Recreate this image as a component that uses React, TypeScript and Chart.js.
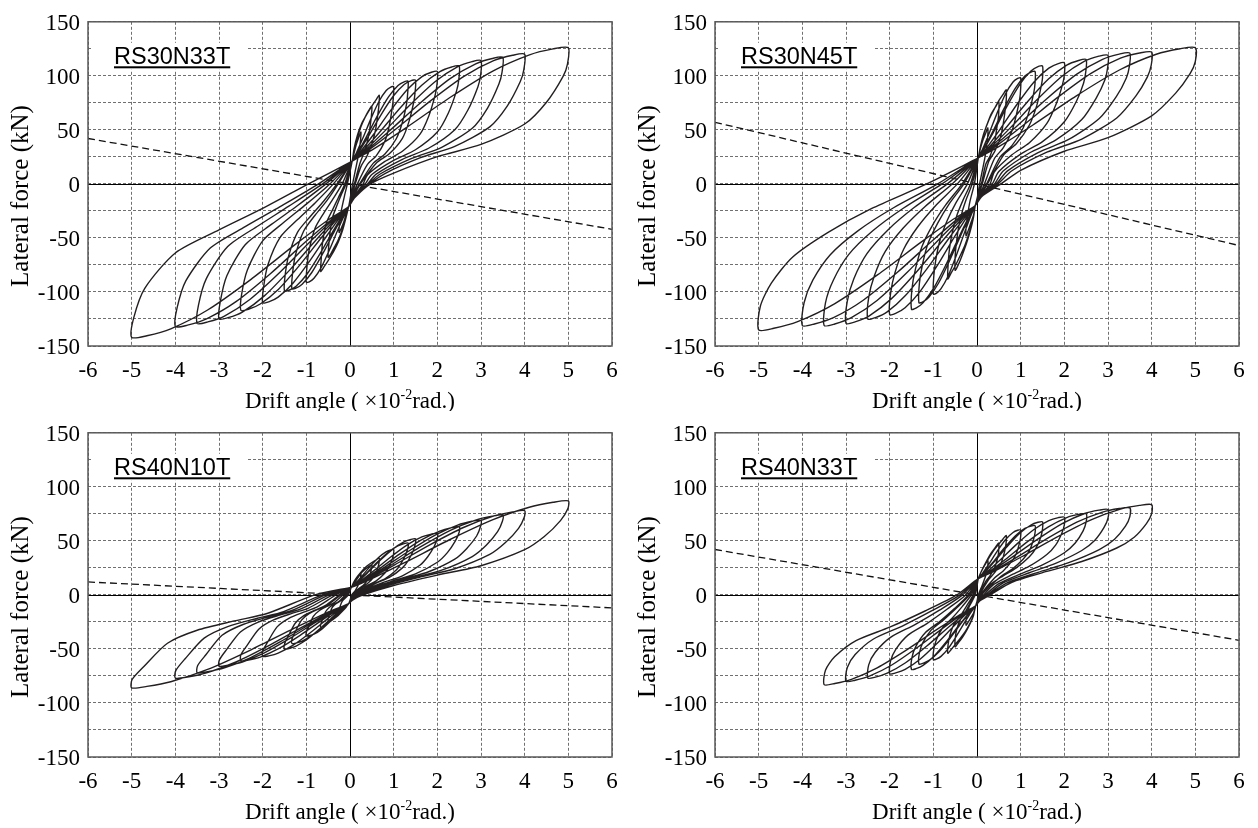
import React, { useEffect, useRef } from 'react';
import { Chart, registerables } from 'chart.js';

Chart.register(...registerables);

// ---------- axes ----------
const X_TICKS = [-6, -5, -4, -3, -2, -1, 0, 1, 2, 3, 4, 5, 6];
const Y_GRID = [-150, -125, -100, -75, -50, -25, 0, 25, 50, 75, 100, 125, 150];
const Y_LABELS = [-150, -100, -50, 0, 50, 100, 150];
const X_TITLE_MAIN = 'Drift angle (';
const X_TITLE_TIMES = ' \u00D7';
const X_TITLE_TEN = '10';
const X_TITLE_EXP = '-2';
const X_TITLE_UNIT = 'rad.)';
const Y_TITLE = 'Lateral force (kN)';

// ---------- RS30N33T : drift (x10^-2 rad), force (kN) pairs, one array per cycle ----------
const RS30N33T_cycles: number[][] = [
  [0.05,21, 0.09,28, 0.14,36, 0.2,43, 0.25,48, 0.24,40, 0.2,28, 0.12,12, 0.06,0, 0.01,-12, -0.03,-21, -0.09,-28, -0.14,-35, -0.2,-41, -0.25,-45, -0.24,-37, -0.2,-25, -0.12,-10, -0.06,0],
  [0.05,21, 0.09,31, 0.16,42, 0.25,53, 0.35,62, 0.43,68, 0.5,72, 0.49,63, 0.47,56, 0.42,43, 0.33,30, 0.22,18, 0.1,0, 0.02,-13, -0.03,-21, -0.09,-30, -0.16,-40, -0.25,-50, -0.35,-58, -0.43,-64, -0.5,-68, -0.49,-59, -0.46,-46, -0.4,-31, -0.3,-20, -0.2,-10, -0.09,0],
  [0.05,21, 0.09,32, 0.17,45, 0.27,56, 0.38,64, 0.5,72, 0.6,78, 0.67,82, 0.66,72, 0.64,65, 0.58,49, 0.5,37, 0.38,25, 0.25,16, 0.12,0, 0.03,-13, -0.03,-21, -0.09,-31, -0.17,-43, -0.27,-54, -0.38,-63, -0.5,-71, -0.6,-77, -0.67,-81, -0.66,-70, -0.63,-55, -0.54,-36, -0.4,-24, -0.27,-13, -0.12,0],
  [0.05,21, 0.145,28.6, 0.288,41.7, 0.478,60.2, 0.668,76.7, 0.829,86.4, 0.934,89.6, 1,90, 0.99,79, 0.97,71, 0.9,54, 0.8,39.6, 0.6,26, 0.4,18, 0.17,0, 0.04,-13, -0.03,-21, -0.127,-28.7, -0.273,-41.9, -0.467,-60.7, -0.661,-77.4, -0.825,-87.3, -0.932,-90.6, -1,-91, -0.99,-79, -0.94,-62, -0.8,-41, -0.6,-27, -0.4,-14.6, -0.18,0],
  [0.05,21, 0.178,29.1, 0.37,43.1, 0.626,62.9, 0.882,80.5, 1.1,91, 1.24,94.5, 1.33,95, 1.32,83.6, 1.3,75, 1.2,57, 1.06,41.8, 0.8,27.6, 0.53,19, 0.22,0, 0.05,-13, -0.03,-21, -0.16,-29.3, -0.355,-43.7, -0.615,-63.9, -0.875,-82, -1.096,-92.8, -1.239,-96.4, -1.33,-97, -1.32,-84.4, -1.25,-66, -1.06,-43.6, -0.8,-29, -0.53,-15.5, -0.27,0],
  [0.05,21, 0.195,29.2, 0.413,43.4, 0.703,63.5, 0.993,81.3, 1.24,91.9, 1.4,95.5, 1.5,96, 1.49,84.5, 1.46,75.8, 1.35,57.6, 1.2,42.2, 0.9,27.8, 0.6,19.2, 0.24,0, 0.06,-13, -0.03,-21, -0.177,-29.5, -0.398,-44.3, -0.692,-65, -0.986,-83.6, -1.235,-94.7, -1.397,-98.4, -1.5,-99, -1.49,-86.1, -1.41,-67.3, -1.2,-44.6, -0.9,-29.7, -0.6,-15.8, -0.3,0],
  [0.05,21, 0.245,30.1, 0.538,45.7, 0.928,67.8, 1.318,87.5, 1.649,99.3, 1.864,103.3, 2,104, 1.99,91.5, 1.95,82.2, 1.8,62.4, 1.6,45.8, 1.2,30.2, 0.8,20.8, 0.4,8.3, 0.3,0, 0.07,-13, -0.03,-21, -0.227,-30.7, -0.523,-47.5, -0.917,-71, -1.311,-92.1, -1.645,-104.8, -1.862,-109.2, -2,-110, -1.98,-95.7, -1.88,-74.8, -1.6,-49.5, -1.2,-33, -0.8,-17.6, -0.38,0],
  [0.05,21, 0.295,30.6, 0.663,47.1, 1.153,70.5, 1.643,91.3, 2.059,103.9, 2.329,108.2, 2.5,109, 2.49,96, 2.44,86.1, 2.25,65.4, 2,48, 1.5,31.6, 1,21.8, 0.5,8.7, 0.35,0, 0.08,-13, -0.03,-21, -0.277,-31.5, -0.648,-49.4, -1.142,-74.7, -1.636,-97.4, -2.055,-111.1, -2.327,-116, -2.5,-117, -2.48,-101.8, -2.35,-79.6, -2,-52.7, -1.5,-35.1, -1,-18.7, -0.46,0],
  [0.05,21, 0.345,31.1, 0.788,48.6, 1.378,73.2, 1.968,95.2, 2.469,108.5, 2.794,113.1, 3,114, 2.99,100.3, 2.93,90, 2.7,68.4, 2.4,50.2, 1.8,33, 1.2,22.8, 0.6,9.1, 0.4,0, 0.09,-13, -0.03,-21, -0.327,-32.3, -0.773,-51.7, -1.367,-79.1, -1.961,-103.6, -2.465,-118.6, -2.792,-123.8, -3,-125, -2.97,-108.8, -2.82,-85, -2.4,-56.3, -1.8,-37.5, -1.2,-20, -0.55,0],
  [0.05,21, 0.395,31.5, 0.913,49.4, 1.603,74.7, 2.293,97.4, 2.879,111.1, 3.259,116, 3.5,117, 3.48,103, 3.41,92.4, 3.15,70.2, 2.8,51.5, 2.1,33.9, 1.4,23.4, 0.7,9.4, 0.42,0, 0.09,-13, -0.03,-21, -0.377,-32.7, -0.898,-52.9, -1.592,-81.3, -2.286,-106.7, -2.875,-122.3, -3.257,-127.7, -3.5,-129, -3.47,-112.2, -3.29,-87.7, -2.8,-58, -2.1,-38.7, -1.4,-20.6, -0.63,0],
  [0.05,21, 0.445,31.8, 1.038,50.4, 1.828,76.4, 2.618,99.8, 3.289,114, 3.724,119, 4,120, 3.98,105.6, 3.9,94.8, 3.6,72, 3.2,52.8, 2.4,34.8, 1.6,24, 0.8,9.6, 0.45,0, 0.1,-13, -0.03,-21, -0.427,-33.1, -1.023,-53.8, -1.817,-82.9, -2.611,-109, -3.285,-124.9, -3.722,-130.7, -4,-132, -3.96,-114.8, -3.76,-89.8, -3.2,-59.4, -2.4,-39.6, -1.6,-21.1, -0.72,0],
  [0.05,21, 0.545,32.4, 1.29,52.1, 2.28,79.7, 3.27,104.4, 4.11,119.4, 4.65,124.9, 5,126, 4.98,110.9, 4.88,99.5, 4.5,75.6, 4,55.4, 3,36.5, 2,25.2, 1,10, 0.47,0, 0.1,-13, -0.03,-21, -0.527,-34.1, -1.273,-56.7, -2.267,-88.3, -3.261,-116.7, -4.105,-134.1, -4.652,-140.5, -5,-142, -4.95,-123.5, -4.7,-96.6, -4,-63.9, -3,-42.6, -2,-22.7, -0.95,0, 0.05,21],
];
const RS30N33T_pdelta = [-6, 42, 6, -42];

// ---------- RS30N45T ----------
const RS30N45T_cycles: number[][] = [
  [0.03,24, 0.08,33, 0.14,41, 0.2,47, 0.25,52, 0.25,46.8, 0.23,38, 0.18,24, 0.12,12, 0.06,0, 0.01,-12, -0.04,-20, -0.08,-29, -0.14,-36, -0.2,-43, -0.25,-48, -0.25,-40, -0.22,-30, -0.16,-16, -0.06,0],
  [0.03,24, 0.08,35, 0.15,46, 0.24,56, 0.33,65, 0.42,71, 0.5,76, 0.5,68, 0.49,61.5, 0.45,50.7, 0.4,38, 0.3,25.8, 0.2,18.2, 0.1,0, 0.02,-12, -0.04,-20, -0.08,-31, -0.15,-43, -0.24,-55, -0.33,-65, -0.42,-74, -0.5,-80, -0.5,-67, -0.47,-54, -0.42,-40, -0.34,-26, -0.24,-13.6, -0.11,0],
  [0.03,24, 0.09,36, 0.17,48, 0.27,59, 0.38,68, 0.5,77, 0.6,83, 0.67,87, 0.67,78, 0.65,70, 0.61,58, 0.54,43.5, 0.4,29.6, 0.27,20.9, 0.12,0, 0.03,-12, -0.04,-20, -0.09,-32, -0.17,-44, -0.27,-56, -0.38,-66, -0.5,-76, -0.6,-83, -0.67,-88, -0.66,-74, -0.63,-60, -0.56,-44, -0.46,-29, -0.32,-15, -0.15,0],
  [0.03,24, 0.127,32.1, 0.273,46.2, 0.467,66.2, 0.661,83.9, 0.825,94.3, 0.932,97.6, 1,98, 1,88.2, 0.98,79.4, 0.91,65.4, 0.8,49, 0.6,33.3, 0.4,23.5, 0.17,0, 0.04,-12, -0.04,-20, -0.136,-28.9, -0.28,-44.4, -0.472,-66.1, -0.664,-85.5, -0.827,-97.2, -0.933,-101.3, -1,-102, -0.99,-85.7, -0.94,-69.4, -0.84,-51, -0.68,-33.7, -0.48,-17.3, -0.22,0],
  [0.03,24, 0.16,32.8, 0.355,47.9, 0.615,69.4, 0.875,88.5, 1.096,99.8, 1.239,103.5, 1.33,104, 1.33,93.6, 1.3,84.2, 1.21,69.4, 1.06,52, 0.8,35.4, 0.53,25, 0.22,0, 0.05,-12, -0.04,-20, -0.169,-29.8, -0.363,-46.7, -0.621,-70.4, -0.879,-91.7, -1.098,-104.6, -1.24,-109.1, -1.33,-110, -1.32,-92.4, -1.25,-74.8, -1.12,-55, -0.9,-36.3, -0.64,-18.7, -0.3,0],
  [0.03,24, 0.177,33.3, 0.398,49.4, 0.692,72.2, 0.986,92.4, 1.235,104.4, 1.397,108.5, 1.5,109, 1.5,98.1, 1.46,88.3, 1.37,72.7, 1.2,54.5, 0.9,37.1, 0.6,26.2, 0.24,0, 0.06,-12, -0.04,-20, -0.186,-30.4, -0.405,-48.4, -0.697,-73.7, -0.989,-96.3, -1.237,-110.1, -1.398,-115, -1.5,-116, -1.49,-97.4, -1.41,-78.9, -1.26,-58, -1.02,-38.3, -0.72,-19.7, -0.34,0],
  [0.03,24, 0.227,33.6, 0.523,50.2, 0.917,73.7, 1.311,94.6, 1.645,107.1, 1.862,111.3, 2,112, 2,100.8, 1.95,90.7, 1.82,74.7, 1.6,56, 1.2,38.1, 0.8,26.9, 0.4,11.2, 0.3,0, 0.07,-12, -0.04,-20, -0.236,-31, -0.53,-49.9, -0.922,-76.4, -1.314,-100.2, -1.647,-114.6, -1.863,-119.8, -2,-121, -1.98,-101.6, -1.88,-82.3, -1.68,-60.5, -1.36,-39.9, -0.96,-20.6, -0.45,0],
  [0.03,24, 0.277,33.9, 0.648,51.2, 1.142,75.4, 1.636,97, 2.055,109.9, 2.327,114.2, 2.5,115, 2.49,103.5, 2.44,93.2, 2.28,76.7, 2,57.5, 1.5,39.1, 1,27.6, 0.5,11.5, 0.35,0, 0.08,-12, -0.04,-20, -0.286,-31.4, -0.655,-51, -1.147,-78.6, -1.639,-103.3, -2.057,-118.4, -2.328,-123.8, -2.5,-125, -2.48,-105, -2.35,-85, -2.1,-62.5, -1.7,-41.3, -1.2,-21.3, -0.57,0],
  [0.03,24, 0.327,34.4, 0.773,52.3, 1.367,77.6, 1.961,100.1, 2.465,113.6, 2.792,118.2, 3,119, 2.99,107.1, 2.93,96.4, 2.73,79.4, 2.4,59.5, 1.8,40.5, 1.2,28.6, 0.6,11.9, 0.4,0, 0.08,-12, -0.04,-20, -0.336,-31.8, -0.78,-52.2, -1.372,-80.8, -1.964,-106.4, -2.467,-122.1, -2.793,-127.7, -3,-129, -2.97,-108.4, -2.82,-87.7, -2.52,-64.5, -2.04,-42.6, -1.44,-21.9, -0.68,0],
  [0.03,24, 0.377,34.6, 0.898,52.9, 1.592,78.6, 2.286,101.6, 2.875,115.3, 3.257,120.1, 3.5,121, 3.49,108.9, 3.42,98, 3.19,80.7, 2.8,60.5, 2.1,41.1, 1.4,29, 0.7,12.1, 0.44,0, 0.09,-12, -0.04,-20, -0.386,-32.1, -0.905,-52.8, -1.597,-81.8, -2.289,-107.9, -2.877,-123.8, -3.258,-129.6, -3.5,-131, -3.47,-110, -3.29,-89.1, -2.94,-65.5, -2.38,-43.2, -1.68,-22.3, -0.8,0],
  [0.03,24, 0.427,34.7, 1.023,53.1, 1.817,79.1, 2.611,102.3, 3.285,116.3, 3.722,121.1, 4,122, 3.99,109.8, 3.9,98.8, 3.64,81.4, 3.2,61, 2.4,41.5, 1.6,29.3, 0.8,12.2, 0.48,0, 0.09,-12, -0.04,-20, -0.436,-32.1, -1.03,-52.8, -1.822,-81.8, -2.614,-107.9, -3.287,-123.8, -3.723,-129.6, -4,-131, -3.96,-110, -3.76,-89.1, -3.36,-65.5, -2.72,-43.2, -1.92,-22.3, -0.9,0],
  [0.03,24, 0.527,35.1, 1.273,54.3, 2.267,81.3, 3.261,105.4, 4.105,120, 4.652,125.1, 5,126, 5,113.4, 4.88,102, 4.55,84, 4,63, 3,42.8, 2,30.2, 1,12.6, 0.55,0, 0.1,-12, -0.04,-20, -0.536,-32.5, -1.28,-53.9, -2.272,-84, -3.264,-111, -4.107,-127.5, -4.653,-133.6, -5,-135, -4.96,-113, -4.71,-91.8, -4.22,-67.6, -3.4,-44.6, -2.42,-22.9, -1.15,0, 0.03,24],
];
const RS30N45T_pdelta = [-6, 57, 6, -57];

// ---------- RS40N10T ----------
const RS40N10T_cycles: number[][] = [
  [0.03,7, 0.08,10, 0.14,13.5, 0.2,17, 0.25,20, 0.25,18.4, 0.24,15.8, 0.2,10, 0.12,4, 0.04,0, 0,-5, -0.03,-8, -0.08,-10, -0.14,-12, -0.2,-13.5, -0.25,-15, -0.25,-13.6, -0.23,-11, -0.18,-6, -0.04,0],
  [0.03,7, 0.08,11, 0.15,15, 0.24,19.5, 0.33,23, 0.42,26, 0.5,28, 0.5,25.8, 0.48,22, 0.45,17.4, 0.4,13.4, 0.3,8.7, 0.2,5.9, 0.06,0, 0.01,-5, -0.03,-8, -0.08,-10.5, -0.15,-13.5, -0.24,-17, -0.33,-20, -0.42,-22.5, -0.5,-24, -0.5,-21.8, -0.47,-18.5, -0.42,-12.5, -0.35,-9.1, -0.19,-4.8, -0.08,0],
  [0.03,7, 0.09,12, 0.17,17, 0.27,22, 0.38,26.5, 0.5,30, 0.6,32.5, 0.67,34, 0.67,31.3, 0.65,27, 0.6,21, 0.54,16.3, 0.4,10.5, 0.27,7, 0.08,0, 0.02,-5, -0.03,-8, -0.09,-11.5, -0.17,-15, -0.27,-19, -0.38,-22.5, -0.5,-26, -0.6,-28.5, -0.67,-30, -0.67,-27.3, -0.63,-23, -0.56,-15.6, -0.47,-11.4, -0.36,-8.4, -0.25,-6, -0.11,0],
  [0.03,7, 0.127,10.8, 0.273,17.4, 0.467,26.6, 0.661,34.8, 0.825,39.8, 0.932,41.6, 1,42, 1,38.6, 0.97,33.2, 0.89,26, 0.8,20.2, 0.6,13, 0.4,8.8, 0.1,0, 0.02,-5, -0.03,-8, -0.127,-11.3, -0.273,-17, -0.467,-25, -0.661,-32.1, -0.825,-36.4, -0.932,-37.8, -1,-38, -1,-34.6, -0.94,-29.3, -0.84,-19.8, -0.7,-14.4, -0.53,-10.6, -0.38,-7.6, -0.16,0],
  [0.03,7, 0.16,11.5, 0.355,19.1, 0.615,29.9, 0.875,39.5, 1.096,45.3, 1.239,47.5, 1.33,48, 1.33,44.2, 1.28,37.9, 1.18,29.8, 1.06,23, 0.8,14.9, 0.53,10.1, 0.13,0, 0.03,-5, -0.03,-8, -0.16,-11.9, -0.355,-19, -0.615,-28.8, -0.875,-37.5, -1.096,-42.7, -1.239,-44.6, -1.33,-45, -1.33,-41, -1.26,-34.7, -1.11,-23.4, -0.93,-17.1, -0.7,-12.6, -0.5,-9, -0.21,0],
  [0.03,7, 0.177,11.9, 0.398,20.3, 0.692,32, 0.986,42.5, 1.235,49, 1.397,51.4, 1.5,52, 1.5,47.8, 1.45,41.1, 1.34,32.2, 1.2,25, 0.9,16.1, 0.6,10.9, 0.14,0, 0.03,-5, -0.03,-8, -0.177,-12.6, -0.398,-20.4, -0.692,-31.4, -0.986,-41.3, -1.235,-47.3, -1.397,-49.6, -1.5,-50, -1.5,-45.5, -1.42,-38.5, -1.25,-26, -1.05,-19, -0.8,-14, -0.57,-10, -0.24,0],
  [0.03,7, 0.227,12.4, 0.523,21.6, 0.917,34.6, 1.311,46.3, 1.645,53.6, 1.862,56.3, 2,57, 2,52.4, 1.93,45, 1.78,35.3, 1.6,27.4, 1.2,17.7, 0.8,12, 0.4,5.7, 0.17,0, 0.03,-5, -0.03,-8, -0.227,-13.3, -0.523,-22.4, -0.917,-35.2, -1.311,-46.7, -1.645,-53.8, -1.862,-56.4, -2,-57, -2,-51.9, -1.89,-43.9, -1.67,-29.6, -1.4,-21.7, -1.06,-16, -0.76,-11.4, -0.32,0],
  [0.03,7, 0.277,13.1, 0.648,23.4, 1.142,37.9, 1.636,51, 2.055,59.1, 2.327,62.2, 2.5,63, 2.5,58, 2.41,49.8, 2.23,39.1, 2,30.2, 1.5,19.5, 1,13.2, 0.5,6.3, 0.2,0, 0.04,-5, -0.03,-8, -0.277,-13.7, -0.648,-23.6, -1.142,-37.4, -1.636,-49.8, -2.055,-57.5, -2.327,-60.3, -2.5,-61, -2.5,-55.5, -2.36,-47, -2.09,-31.7, -1.75,-23.2, -1.33,-17.1, -0.95,-12.2, -0.4,0],
  [0.03,7, 0.327,13.7, 0.773,25.1, 1.367,41.1, 1.961,55.6, 2.465,64.6, 2.792,68.1, 3,69, 2.99,63.5, 2.9,54.5, 2.67,42.8, 2.4,33.1, 1.8,21.4, 1.2,14.5, 0.6,6.9, 0.22,0, 0.04,-5, -0.03,-8, -0.327,-14.3, -0.773,-25, -1.367,-40, -1.961,-53.6, -2.465,-62.1, -2.792,-65.1, -3,-66, -2.99,-60.1, -2.83,-50.8, -2.51,-34.3, -2.1,-25.1, -1.59,-18.5, -1.14,-13.2, -0.48,0],
  [0.03,7, 0.377,14.2, 0.898,26.6, 1.592,43.9, 2.286,59.5, 2.875,69.2, 3.257,72.9, 3.5,74, 3.49,68.1, 3.38,58.5, 3.12,45.9, 2.8,35.5, 2.1,22.9, 1.4,15.5, 0.7,7.4, 0.24,0, 0.05,-5, -0.03,-8, -0.377,-14.9, -0.898,-26.7, -1.592,-43.3, -2.286,-58.2, -2.875,-67.5, -3.257,-71, -3.5,-72, -3.49,-65.5, -3.3,-55.4, -2.93,-37.4, -2.45,-27.4, -1.86,-20.2, -1.33,-14.4, -0.56,0],
  [0.03,7, 0.427,14.7, 1.023,27.8, 1.817,46.1, 2.611,62.6, 3.285,72.9, 3.722,76.8, 4,78, 3.99,71.8, 3.86,61.6, 3.56,48.4, 3.2,37.4, 2.4,24.2, 1.6,16.4, 0.8,7.8, 0.27,0, 0.05,-5, -0.03,-8, -0.427,-15.5, -1.023,-28.2, -1.817,-46, -2.611,-62.1, -3.285,-72.1, -3.722,-76, -4,-77, -3.99,-70.1, -3.78,-59.3, -3.34,-40, -2.8,-29.3, -2.12,-21.6, -1.52,-15.4, -0.64,0],
  [0.03,7, 0.527,15.6, 1.273,30.3, 2.267,50.8, 3.261,69.4, 4.105,81.1, 4.652,85.7, 5,87, 4.99,80, 4.82,68.7, 4.45,54, 4,41.8, 3,27, 2,18.3, 1,8.7, 0.3,0, 0.05,-5, -0.03,-8, -0.527,-16.4, -1.273,-30.8, -2.267,-50.8, -3.261,-69, -4.105,-80.4, -4.652,-84.7, -5,-86, -4.99,-78.3, -4.72,-66.2, -4.18,-44.7, -3.5,-32.7, -2.65,-24.1, -1.9,-17.2, -0.8,0, 0.03,7],
];
const RS40N10T_pdelta = [-6, 12, 6, -12];

// ---------- RS40N33T ----------
const RS40N33T_cycles: number[][] = [
  [0.03,15, 0.08,20, 0.14,25, 0.2,29, 0.25,32, 0.25,28.8, 0.24,25, 0.2,18, 0.12,9, 0.03,0, 0,-6, -0.03,-10, -0.08,-17, -0.14,-21, -0.2,-25, -0.25,-28, -0.25,-23.5, -0.23,-19, -0.18,-11, -0.04,0],
  [0.03,15, 0.08,20, 0.15,26, 0.24,33, 0.33,39, 0.42,44, 0.5,48, 0.5,43.2, 0.49,38, 0.45,30.7, 0.4,25, 0.3,17.8, 0.2,12.5, 0.05,0, 0.01,-6, -0.03,-10, -0.08,-19, -0.15,-26, -0.24,-33, -0.33,-39, -0.42,-44, -0.5,-48, -0.5,-40.3, -0.47,-33.1, -0.4,-24.5, -0.29,-17.3, -0.17,-8.6, -0.07,0],
  [0.03,15, 0.09,21, 0.17,27, 0.27,34, 0.38,41, 0.5,47, 0.6,52, 0.67,55, 0.67,49.5, 0.65,43.5, 0.6,35.2, 0.54,28.6, 0.4,20.4, 0.27,14.3, 0.06,0, 0.01,-6, -0.03,-10, -0.09,-20, -0.17,-27, -0.27,-34, -0.38,-40, -0.5,-46, -0.6,-51, -0.67,-54, -0.66,-45.4, -0.62,-37.3, -0.53,-27.5, -0.38,-19.4, -0.23,-9.7, -0.09,0],
  [0.03,15, 0.127,19.9, 0.273,28.6, 0.467,40.7, 0.661,51.5, 0.825,57.8, 0.932,59.8, 1,60, 1,54, 0.97,47.4, 0.9,38.4, 0.8,31.2, 0.6,22.2, 0.4,15.6, 0.08,0, 0.02,-6, -0.03,-10, -0.127,-15.4, -0.273,-24.8, -0.467,-37.9, -0.661,-49.7, -0.825,-56.9, -0.932,-59.4, -1,-60, -0.99,-50.4, -0.93,-41.4, -0.79,-30.6, -0.57,-21.6, -0.34,-10.8, -0.13,0],
  [0.03,15, 0.16,20.4, 0.355,29.7, 0.615,42.9, 0.875,54.6, 1.096,61.5, 1.239,63.7, 1.33,64, 1.33,57.6, 1.29,50.6, 1.2,41, 1.06,33.3, 0.8,23.7, 0.53,16.6, 0.1,0, 0.02,-6, -0.03,-10, -0.16,-15.9, -0.355,-25.9, -0.615,-40.1, -0.875,-52.8, -1.096,-60.6, -1.239,-63.3, -1.33,-64, -1.32,-53.8, -1.24,-44.2, -1.05,-32.6, -0.76,-23, -0.45,-11.5, -0.17,0],
  [0.03,15, 0.177,20.8, 0.398,30.8, 0.692,44.8, 0.986,57.3, 1.235,64.7, 1.397,67.2, 1.5,67.6, 1.5,60.8, 1.46,53.4, 1.35,43.3, 1.2,35.2, 0.9,25, 0.6,17.6, 0.3,9.5, 0.11,0, 0.03,-6, -0.03,-10, -0.177,-16.4, -0.398,-27.4, -0.692,-42.8, -0.986,-56.7, -1.235,-65.2, -1.397,-68.3, -1.5,-69, -1.49,-58, -1.4,-47.6, -1.19,-35.2, -0.86,-24.8, -0.51,-12.4, -0.2,0],
  [0.03,15, 0.227,21.2, 0.523,32, 0.917,47.2, 1.311,60.7, 1.645,68.7, 1.862,71.5, 2,72, 2,64.8, 1.94,56.9, 1.8,46.1, 1.6,37.4, 1.2,26.6, 0.8,18.7, 0.4,10.1, 0.15,0, 0.03,-6, -0.03,-10, -0.227,-16.8, -0.523,-28.6, -0.917,-45, -1.311,-59.8, -1.645,-68.9, -1.862,-72.2, -2,-73, -1.98,-61.3, -1.86,-50.4, -1.58,-37.2, -1.14,-26.3, -0.68,-13.1, -0.26,0],
  [0.03,15, 0.277,21.5, 0.648,32.8, 1.142,48.8, 1.636,63, 2.055,71.6, 2.327,74.5, 2.5,75, 2.5,67.5, 2.43,59.3, 2.25,48, 2,39, 1.5,27.8, 1,19.5, 0.5,10.5, 0.19,0, 0.04,-6, -0.03,-10, -0.277,-17.3, -0.648,-29.7, -1.142,-47.1, -1.636,-62.8, -2.055,-72.4, -2.327,-76.1, -2.5,-77, -2.48,-64.7, -2.33,-53.1, -1.98,-39.3, -1.43,-27.7, -0.85,-13.9, -0.33,0],
  [0.03,15, 0.327,22, 0.773,34, 1.367,50.9, 1.961,66.1, 2.465,75.3, 2.792,78.4, 3,79, 3,71.1, 2.91,62.4, 2.7,50.6, 2.4,41.1, 1.8,29.2, 1.2,20.5, 0.6,11.1, 0.23,0, 0.04,-6, -0.03,-10, -0.327,-17.6, -0.773,-30.5, -1.367,-48.7, -1.961,-65.1, -2.465,-75.2, -2.792,-79, -3,-80, -2.97,-67.2, -2.79,-55.2, -2.37,-40.8, -1.71,-28.8, -1.02,-14.4, -0.39,0],
  [0.03,15, 0.377,22.2, 0.898,34.5, 1.592,51.8, 2.286,67.3, 2.875,76.6, 3.257,79.9, 3.5,80.5, 3.5,72.5, 3.4,63.6, 3.15,51.5, 2.8,41.9, 2.1,29.8, 1.4,20.9, 0.7,11.3, 0.26,0, 0.05,-6, -0.03,-10, -0.377,-17.9, -0.898,-31.5, -1.592,-50.4, -2.286,-67.5, -2.875,-78.1, -3.257,-82, -3.5,-83, -3.47,-69.7, -3.26,-57.3, -2.77,-42.3, -2,-29.9, -1.19,-14.9, -0.46,0],
  [0.03,15, 0.427,22.5, 1.023,35.3, 1.817,53.3, 2.611,69.5, 3.285,79.4, 3.722,82.8, 4,83.5, 4,75.2, 3.88,66, 3.6,53.4, 3.2,43.4, 2.4,30.9, 1.6,21.7, 0.8,11.7, 0.3,0, 0.05,-6, -0.03,-10],
];
const RS40N33T_pdelta = [-6, 42, 6, -42];

// ---------- layout (not data) ----------
const CANVAS_W = 629;
const PLOT_LEFT = 88;
const PLOT_RIGHT = 612;
const PLOT_TOP = 13;
const PLOT_BOTTOM = 346;

type PanelSpec = { label: string; cycles: number[][]; pdelta: number[]; left: number; top: number; h: number };

const PANELS: PanelSpec[] = [
  { label: 'RS30N33T', cycles: RS30N33T_cycles, pdelta: RS30N33T_pdelta, left: 0, top: 0, h: 411 },
  { label: 'RS30N45T', cycles: RS30N45T_cycles, pdelta: RS30N45T_pdelta, left: 627, top: 0, h: 411 },
  { label: 'RS40N10T', cycles: RS40N10T_cycles, pdelta: RS40N10T_pdelta, left: 0, top: 411, h: 417 },
  { label: 'RS40N33T', cycles: RS40N33T_cycles, pdelta: RS40N33T_pdelta, left: 627, top: 411, h: 417 },
];

const SERIF = "'Liberation Serif', 'Times New Roman', serif";
const SANS = "'Liberation Sans', Arial, sans-serif";

function Panel({ spec }: { spec: PanelSpec }) {
  const ref = useRef<HTMLCanvasElement | null>(null);
  useEffect(() => {
    const canvas = ref.current;
    if (!canvas) return;
    const pts: { x: number; y: number }[] = [];
    spec.cycles.forEach((c) => {
      for (let i = 0; i < c.length; i += 2) pts.push({ x: c[i], y: c[i + 1] });
    });
    const pd = [
      { x: spec.pdelta[0], y: spec.pdelta[1] },
      { x: spec.pdelta[2], y: spec.pdelta[3] },
    ];

    const deco = {
      id: 'deco',
      beforeDatasetsDraw(chart: any) {
        const { ctx, chartArea, scales } = chart;
        const { left, right, top, bottom } = chartArea;
        const x0 = Math.round(scales.x.getPixelForValue(0)) + 0.5;
        const y0 = Math.round(scales.y.getPixelForValue(0)) + 0.5;
        ctx.save();
        ctx.strokeStyle = '#000';
        ctx.lineWidth = 1;
        ctx.beginPath();
        ctx.moveTo(x0, top);
        ctx.lineTo(x0, bottom);
        ctx.moveTo(left, y0);
        ctx.lineTo(right, y0);
        ctx.stroke();
        ctx.restore();
      },
      afterDraw(chart: any) {
        const { ctx, chartArea } = chart;
        const { left, right, top, bottom } = chartArea;
        ctx.save();
        // frame
        ctx.strokeStyle = '#5a5a5a';
        ctx.lineWidth = 1.5;
        ctx.strokeRect(left, top, right - left, bottom - top);
        // specimen label
        ctx.fillStyle = '#fff';
        ctx.fillRect(left + 4, top + 21, 154, 27);
        ctx.font = `23.5px ${SANS}`;
        ctx.fillStyle = '#000';
        ctx.textAlign = 'left';
        ctx.textBaseline = 'alphabetic';
        const lx = left + 26;
        const ly = top + 42;
        ctx.fillText(spec.label, lx, ly);
        const lw = ctx.measureText(spec.label).width;
        ctx.fillRect(lx, ly + 2.5, lw, 2);
        // y title
        ctx.save();
        ctx.translate(21, 196);
        ctx.rotate(-Math.PI / 2);
        ctx.font = `25px ${SERIF}`;
        ctx.textAlign = 'center';
        ctx.textBaseline = 'middle';
        ctx.fillText(Y_TITLE, 0, 0);
        ctx.restore();
        // x title with superscript
        const big = `23px ${SERIF}`;
        const small = `14px ${SERIF}`;
        ctx.font = big;
        const w1 = ctx.measureText(X_TITLE_MAIN).width;
        const w2 = ctx.measureText(X_TITLE_TIMES).width;
        const w3 = ctx.measureText(X_TITLE_TEN).width;
        const w5 = ctx.measureText(X_TITLE_UNIT).width;
        ctx.font = small;
        const w4 = ctx.measureText(X_TITLE_EXP).width;
        const total = w1 + w2 + w3 + w4 + w5;
        let cx = (left + right) / 2 - total / 2;
        const by = 408;
        ctx.textAlign = 'left';
        ctx.textBaseline = 'alphabetic';
        ctx.font = big;
        ctx.fillText(X_TITLE_MAIN, cx, by); cx += w1;
        ctx.fillText(X_TITLE_TIMES, cx, by); cx += w2;
        ctx.fillText(X_TITLE_TEN, cx, by); cx += w3;
        ctx.font = small;
        ctx.fillText(X_TITLE_EXP, cx, by - 9); cx += w4;
        ctx.font = big;
        ctx.fillText(X_TITLE_UNIT, cx, by);
        ctx.restore();
      },
    };

    const chart = new Chart(canvas, {
      type: 'scatter',
      data: {
        datasets: [
          {
            data: pts,
            showLine: true,
            borderColor: '#231f20',
            borderWidth: 1.4,
            pointRadius: 0,
            tension: 0.25,
            fill: false,
          },
          {
            data: pd,
            showLine: true,
            borderColor: '#111',
            borderWidth: 1.3,
            borderDash: [7, 4],
            pointRadius: 0,
            tension: 0,
            fill: false,
          },
        ],
      },
      options: {
        responsive: false,
        animation: false,
        events: [],
        layout: { padding: { top: PLOT_TOP, right: CANVAS_W - PLOT_RIGHT, left: 0, bottom: 0 } },
        plugins: { legend: { display: false }, tooltip: { enabled: false } },
        scales: {
          x: {
            type: 'linear',
            min: X_TICKS[0],
            max: X_TICKS[X_TICKS.length - 1],
            afterBuildTicks: (s: any) => {
              s.ticks = X_TICKS.map((v) => ({ value: v }));
            },
            afterFit: (s: any) => {
              s.height = spec.h - PLOT_BOTTOM;
            },
            grid: { color: '#707070', lineWidth: 1, drawTicks: false },
            border: { display: false, dash: [3, 2] },
            ticks: {
              padding: 11,
              color: '#000',
              font: { family: SERIF, size: 23 },
              maxRotation: 0,
              autoSkip: false,
              callback: (v: any) => String(v),
            },
          },
          y: {
            type: 'linear',
            min: Y_GRID[0],
            max: Y_GRID[Y_GRID.length - 1],
            afterBuildTicks: (s: any) => {
              s.ticks = Y_GRID.map((v) => ({ value: v }));
            },
            afterFit: (s: any) => {
              s.width = PLOT_LEFT;
            },
            grid: { color: '#707070', lineWidth: 1, drawTicks: false },
            border: { display: false, dash: [3, 2] },
            ticks: {
              padding: 8,
              labelOffset: 2,
              color: '#000',
              font: { family: SERIF, size: 23 },
              autoSkip: false,
              callback: (v: any) => (Y_LABELS.includes(Number(v)) ? String(v) : ''),
            },
          },
        },
      },
      plugins: [deco],
    } as any);
    return () => chart.destroy();
  }, [spec]);
  return (
    <canvas
      ref={ref}
      width={CANVAS_W}
      height={spec.h}
      style={{ position: 'absolute', left: spec.left, top: spec.top, width: CANVAS_W, height: spec.h }}
    />
  );
}

export default function App() {
  return (
    <div style={{ position: 'absolute', left: 0, top: 0, width: 1258, height: 828, background: '#fff', overflow: 'hidden' }}>
      {PANELS.map((p) => (
        <Panel key={p.label} spec={p} />
      ))}
    </div>
  );
}
